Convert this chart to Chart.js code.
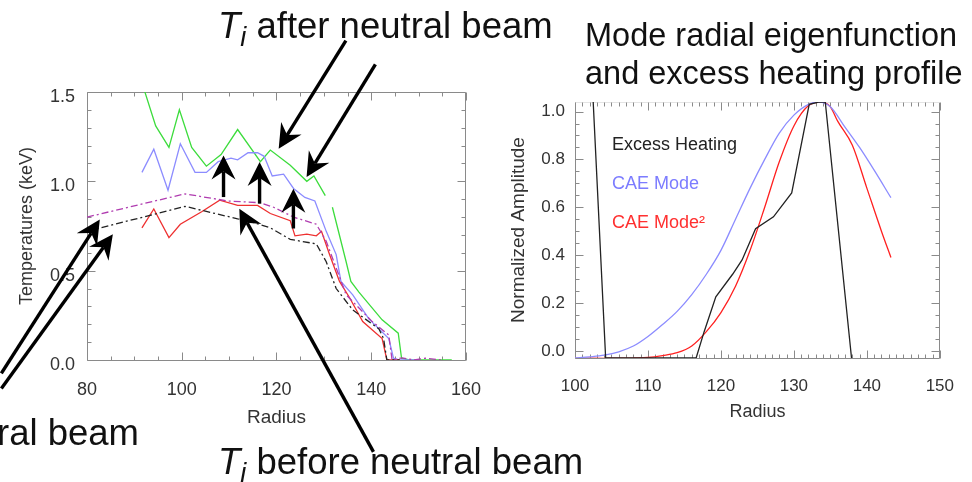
<!DOCTYPE html>
<html>
<head>
<meta charset="utf-8">
<script src="https://cdn.jsdelivr.net/npm/chart.js@4.4.1/dist/chart.umd.min.js"></script>
<style>
  body { margin: 0; background: #fff; }
  #page { position: relative; width: 972px; height: 482px; overflow: hidden;
          font-family: 'Liberation Sans', Arial, sans-serif; color: #111; }
  #leftChart { position: absolute; left: 0; top: 0; }
  #rightChart { position: absolute; left: 500px; top: 0; }
  .note { position: absolute; white-space: nowrap; font-size: 36.5px; line-height: 1; }
  .note sub { font-size: 0.74em; font-style: italic; vertical-align: -8px; line-height: 0; }
  .title { position: absolute; left: 585px; top: 16px; font-size: 32.5px; line-height: 38px; white-space: nowrap; }
</style>
</head>
<body>
<div id="page">
  <canvas id="leftChart" width="500" height="482"></canvas>
  <canvas id="rightChart" width="472" height="482"></canvas>
  <div class="note" style="left:218px; top:8px;"><i>T</i><sub>i</sub> after neutral beam</div>
  <div class="note" style="left:-3px; top:415px;">ral beam</div>
  <div class="note" style="left:218px; top:444px;"><i>T</i><sub>i</sub> before neutral beam</div>
  <div class="title">Mode radial eigenfunction<br>and excess heating profile</div>
</div>
<script>
// ---- Left panel: temperature profiles ----
const tiAfterGreenR = [91.5, 94.5, 97.3, 99.5, 102.1, 105.2, 108.3, 111.8, 116.6, 118.7, 122.9, 126.4, 127.9, 130.3, 131.0, 131.8, 134.7, 135.7, 137.4, 142.3, 145.7, 146.4, 148, 157];
const tiAfterGreenT = [1.56, 1.31, 1.19, 1.40, 1.19, 1.085, 1.15, 1.29, 1.11, 1.175, 1.09, 1.00, 1.03, 0.92, null, 0.855, 0.55, 0.44, 0.38, 0.225, 0.15, 0.01, 0, 0];

const tiAfterBlueR = [91.6, 94.1, 97.1, 99.7, 102.8, 105.2, 107.7, 110.4, 111.8, 114.0, 116.0, 117.4, 119.1, 121.5, 123.6, 126.0, 128.1, 130.5, 132.6, 133.6, 136.1, 139.5, 143.7, 144.7, 146, 150];
const tiAfterBlueT = [1.05, 1.18, 0.95, 1.21, 1.05, 1.05, 1.11, 1.13, 1.12, 1.16, 1.16, 1.14, 1.03, 1.04, 0.96, 0.91, 0.89, 0.72, 0.59, 0.44, 0.365, 0.23, 0.12, 0.01, 0, 0];

const tiBeforeR = [91.6, 94.1, 97.3, 99.7, 104.2, 108.0, 111.8, 116.0, 118.7, 122.9, 123.9, 126.4, 128.4, 129.5, 131.2, 133.3, 135.4, 138.2, 142.3, 143.3, 146];
const tiBeforeT = [0.74, 0.845, 0.685, 0.76, 0.83, 0.895, 0.865, 0.865, 0.82, 0.78, 0.695, 0.705, 0.695, 0.72, 0.59, 0.44, 0.35, 0.215, 0.12, 0, 0];

const teAfterR = [80, 100.7, 109.7, 116.6, 119.4, 123.6, 128.4, 130.5, 132.6, 134.7, 140.2, 143.7, 144.4, 146.5, 149, 151.5, 155];
const teAfterT = [0.80, 0.93, 0.89, 0.88, 0.855, 0.80, 0.76, 0.665, 0.515, 0.365, 0.215, 0.14, 0, 0.012, 0, 0.01, 0];

const teBeforeR = [80, 100.7, 111.8, 113.9, 118.7, 122.9, 128.4, 130.5, 132.6, 136.1, 141.6, 142.6, 143.3, 146];
const teBeforeT = [0.72, 0.86, 0.79, 0.78, 0.74, 0.675, 0.65, 0.55, 0.40, 0.28, 0.175, 0.12, 0, 0];

const leftRadiusTicks = [80, 100, 120, 140, 160];
const leftTempTicks = [0.0, 0.5, 1.0, 1.5];

// arrows in data units of the left panel: [tailR, tailT, tipR, tipT]
const leftArrows = [
  [134.65, 1.788, 120.46, 1.183],
  [140.88, 1.654, 126.35, 1.024],
  [108.82, 0.912, 108.82, 1.145],
  [116.43, 0.875, 116.43, 1.108],
  [123.57, 0.736, 123.57, 0.959],
  [140.47, -0.514, 112.15, 0.847],
  [61.92, -0.075, 82.70, 0.786],
  [61.92, -0.160, 85.46, 0.704]
];

// ---- Right panel: mode eigenfunction and excess heating ----
const heatR = [102, 104.2, 116.6, 117.7, 119.3, 121.6, 122.9, 124.75, 127.2, 129.7, 132.1, 133.4, 134.3, 137.9];
const heatA = [1.35, -0.03, -0.03, 0.08, 0.226, 0.32, 0.38, 0.51, 0.56, 0.66, 1.03, 1.04, 1.04, -0.03];

const modeR = [100, 102, 104, 106, 108, 110, 112, 114, 116, 118, 120, 122, 124, 126, 128, 130, 132, 133.5, 135, 137, 139, 141, 143.3];
const modeA = [-0.03, -0.025, -0.018, -0.004, 0.02, 0.06, 0.11, 0.165, 0.235, 0.32, 0.42, 0.55, 0.68, 0.80, 0.91, 0.985, 1.03, 1.04, 1.02, 0.935, 0.85, 0.755, 0.64];

const modeSqR = [100, 104, 108, 110, 112, 114, 116, 118, 120, 122, 124, 126, 128, 130, 132, 133.7, 135, 136, 138, 140, 142, 143.3];
const modeSqA = [-0.032, -0.032, -0.03, -0.028, -0.02, -0.008, 0.02, 0.08, 0.16, 0.27, 0.42, 0.6, 0.79, 0.94, 1.025, 1.04, 1.02, 0.96, 0.86, 0.68, 0.5, 0.39];

const rightRadiusTicks = [100, 110, 120, 130, 140, 150];
const rightAmpTicks = [0.0, 0.2, 0.4, 0.6, 0.8, 1.0];

const pts = (xs, ys) => xs.map((x, i) => ({ x, y: ys[i] }));

Chart.defaults.font.family = "'Liberation Sans', Arial, sans-serif";
Chart.defaults.color = '#333';
Chart.defaults.animation = false;

// box with inward IDL-style ticks
const axisFrame = {
  id: 'axisFrame',
  beforeDatasetsDraw(chart, args, o) {
    const { ctx, chartArea: a, scales: { x, y } } = chart;
    const L = Math.round(a.left) + 0.5, R = Math.round(a.right) - 0.5;
    const T = Math.round(a.top) + 0.5, B = Math.round(a.bottom) + 0.5;
    const marks = (scale, step, majors) => {
      const out = [];
      const k0 = Math.ceil(scale.min / step - 1e-6), k1 = Math.floor(scale.max / step + 1e-6);
      for (let k = k0; k <= k1; k++) {
        const v = k * step;
        out.push({ p: Math.round(scale.getPixelForValue(v)) + 0.5, major: majors.some(m => Math.abs(m - v) < 1e-6) });
      }
      return out;
    };
    const seg = (x0, y0, x1, y1) => { ctx.beginPath(); ctx.moveTo(x0, y0); ctx.lineTo(x1, y1); ctx.stroke(); };
    ctx.save();
    ctx.lineWidth = 1;
    ctx.strokeStyle = o.color;
    seg(L, B, R, B); seg(L, T, L, B); seg(R, T, R, B);
    ctx.strokeStyle = o.topColor || o.color;
    seg(L, T, R, T);
    ctx.strokeStyle = o.color;
    marks(x, o.xMinor, x.ticks.map(t => t.value)).forEach(m => {
      const len = m.major ? o.major : o.minor;
      seg(m.p, B, m.p, B - len); seg(m.p, T, m.p, T + len);
    });
    marks(y, o.yMinor, y.ticks.map(t => t.value)).forEach(m => {
      const len = m.major ? o.major : o.minor;
      seg(L, m.p, L + len, m.p); seg(R, m.p, R - len, m.p);
    });
    ctx.restore();
  }
};

const arrowNotes = {
  id: 'arrowNotes',
  afterDraw(chart, args, o) {
    const { ctx, scales: { x, y } } = chart;
    ctx.save();
    ctx.strokeStyle = '#000';
    ctx.fillStyle = '#000';
    ctx.lineWidth = 3.4;
    o.arrows.forEach(([r0, t0, r1, t1]) => {
      const x0 = x.getPixelForValue(r0), y0 = y.getPixelForValue(t0);
      const x1 = x.getPixelForValue(r1), y1 = y.getPixelForValue(t1);
      const ang = Math.atan2(y1 - y0, x1 - x0);
      const ux = Math.cos(ang), uy = Math.sin(ang);
      const head = 24, half = 12, notch = 16;
      ctx.beginPath();
      ctx.moveTo(x0, y0);
      ctx.lineTo(x1 - ux * notch, y1 - uy * notch);
      ctx.stroke();
      ctx.beginPath();
      ctx.moveTo(x1, y1);
      ctx.lineTo(x1 - ux * head - uy * half, y1 - uy * head + ux * half);
      ctx.lineTo(x1 - ux * notch, y1 - uy * notch);
      ctx.lineTo(x1 - ux * head + uy * half, y1 - uy * head - ux * half);
      ctx.closePath();
      ctx.fill();
    });
    ctx.restore();
  }
};

const innerLegend = {
  id: 'innerLegend',
  afterDraw(chart, args, o) {
    const { ctx, chartArea: a } = chart;
    ctx.save();
    ctx.font = o.font;
    ctx.textBaseline = 'middle';
    chart.data.datasets.forEach((ds, i) => {
      ctx.fillStyle = o.colors[i];
      ctx.fillText(ds.label, a.left + o.dx, a.top + o.dy + i * o.gap);
    });
    ctx.restore();
  }
};

const line = (label, xs, ys, color, dash, smooth) => ({
  label, data: pts(xs, ys), borderColor: color, borderWidth: 1.3,
  borderDash: dash || [], pointRadius: 0, fill: false, tension: 0,
  cubicInterpolationMode: smooth ? 'monotone' : 'default'
});

// Left chart
new Chart(document.getElementById('leftChart'), {
  type: 'line',
  data: {
    datasets: [
      line('Te before', teBeforeR, teBeforeT, '#222222', [7, 3, 2, 3]),
      line('Te after', teAfterR, teAfterT, '#b03cb0', [7, 3, 2, 3]),
      line('Ti before', tiBeforeR, tiBeforeT, '#ee3030'),
      line('Ti after (blue)', tiAfterBlueR, tiAfterBlueT, '#8c8cff'),
      line('Ti after (green)', tiAfterGreenR, tiAfterGreenT, '#3cdc3c')
    ]
  },
  options: {
    responsive: false,
    layout: { padding: { top: 92, right: 28, left: 0, bottom: 52 } },
    plugins: {
      legend: { display: false },
      tooltip: { enabled: false },
      axisFrame: { color: '#8a8a8a', xMinor: 5, yMinor: 0.1, major: 8, minor: 4 },
      arrowNotes: { arrows: leftArrows }
    },
    scales: {
      x: {
        type: 'linear', min: 80, max: 160,
        afterBuildTicks: s => { s.ticks = leftRadiusTicks.map(v => ({ value: v })); },
        afterFit: s => { s.height = 70; },
        grid: { display: false, drawTicks: false },
        border: { display: false },
        ticks: { padding: 19, font: { size: 18 }, maxRotation: 0, autoSkip: false, callback: v => String(v) },
        title: { display: true, text: 'Radius', font: { size: 19 }, padding: { top: 0, bottom: 1 } }
      },
      y: {
        type: 'linear', min: 0, max: 1.5,
        afterBuildTicks: s => { s.ticks = leftTempTicks.map(v => ({ value: v })); },
        afterFit: s => { s.width = 87; },
        grid: { display: false, drawTicks: false },
        border: { display: false },
        ticks: { padding: 12, labelOffset: 5, font: { size: 18 }, autoSkip: false, callback: v => v.toFixed(1) },
        title: { display: true, text: 'Temperatures (keV)', font: { size: 18 }, padding: { top: 16, bottom: 0 } }
      }
    }
  },
  plugins: [axisFrame, arrowNotes]
});

// Right chart
new Chart(document.getElementById('rightChart'), {
  type: 'line',
  data: {
    datasets: [
      line('Excess Heating', heatR, heatA, '#222222'),
      line('CAE Mode', modeR, modeA, '#8c8cff', null, true),
      line('CAE Mode\u00b2', modeSqR, modeSqA, '#ff2020', null, true)
    ]
  },
  options: {
    responsive: false,
    layout: { padding: { top: 102, right: 30, left: 0, bottom: 59 } },
    plugins: {
      legend: { display: false },
      tooltip: { enabled: false },
      axisFrame: { color: '#8a8a8a', topColor: '#e4e4e4', xMinor: 1, yMinor: 0.05, major: 8, minor: 4 },
      innerLegend: { font: "18px 'Liberation Sans', Arial, sans-serif", dx: 37, dy: 43, gap: 39,
                     colors: ['#222222', '#7c7cff', '#ff3030'] }
    },
    scales: {
      x: {
        type: 'linear', min: 100, max: 150,
        afterBuildTicks: s => { s.ticks = rightRadiusTicks.map(v => ({ value: v })); },
        afterFit: s => { s.height = 65; },
        grid: { display: false, drawTicks: false },
        border: { display: false },
        ticks: { padding: 18, font: { size: 17 }, maxRotation: 0, autoSkip: false, callback: v => String(v) },
        title: { display: true, text: 'Radius', font: { size: 18 }, padding: { top: 0, bottom: 0 } }
      },
      y: {
        type: 'linear', min: -0.03, max: 1.04,
        afterBuildTicks: s => { s.ticks = rightAmpTicks.map(v => ({ value: v })); },
        afterFit: s => { s.width = 75; },
        grid: { display: false, drawTicks: false },
        border: { display: false },
        ticks: { padding: 10, font: { size: 17 }, autoSkip: false, callback: v => v.toFixed(1) },
        title: { display: true, text: 'Normalized Amplitude', font: { size: 19 }, padding: { top: 7, bottom: 0 } }
      }
    }
  },
  plugins: [axisFrame, innerLegend]
});
</script>
</body>
</html>
